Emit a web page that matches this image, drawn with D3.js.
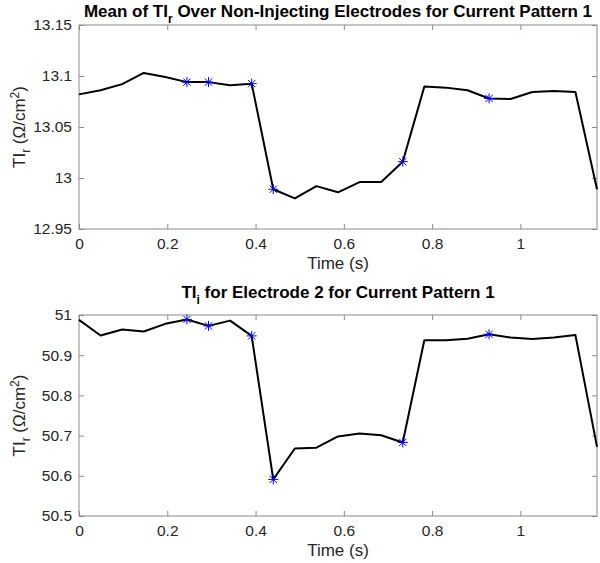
<!DOCTYPE html>
<html>
<head>
<meta charset="utf-8">
<script src="https://cdn.jsdelivr.net/npm/d3@7"></script>
<style>
  html, body { margin: 0; padding: 0; background: #fff; }
  svg { display: block; }
  text { font-family: "Liberation Sans", Arial, Helvetica, sans-serif; }
</style>
</head>
<body>
<svg id="chart" width="600" height="563"></svg>
<script>
// ---- data ----
const time = [0, 0.0489, 0.0978, 0.1467, 0.1956, 0.2445, 0.2934, 0.3423, 0.3912, 0.4401,
              0.489, 0.5379, 0.5868, 0.6357, 0.6846, 0.7335, 0.7824, 0.8313, 0.8802, 0.9291,
              0.978, 1.0269, 1.0758, 1.1247, 1.1736];
const meanTIr = [13.082, 13.086, 13.092, 13.103, 13.099, 13.094, 13.094, 13.091, 13.0925, 12.989,
                 12.980, 12.992, 12.986, 12.996, 12.996, 13.016, 13.0896, 13.0886, 13.086, 13.078,
                 13.0775, 13.0843, 13.0853, 13.0843, 12.989];
const electrode2TIi = [50.988, 50.949, 50.964, 50.959, 50.978, 50.989, 50.973, 50.986, 50.948, 50.591,
                       50.668, 50.670, 50.698, 50.705, 50.701, 50.683, 50.937, 50.937, 50.941, 50.952,
                       50.944, 50.940, 50.944, 50.950, 50.672];
const markedIdx = [5, 6, 8, 9, 15, 19];
const xTicks = [0, 0.2, 0.4, 0.6, 0.8, 1];
const yTicksTop = [12.95, 13, 13.05, 13.1, 13.15];
const yTicksBottom = [50.5, 50.6, 50.7, 50.8, 50.9, 51];

const svg = d3.select("#chart");
const left = 79, right = 597;
const axisColor = "#8a8a8a", textColor = "#262626";

function panel(cfg) {
  const x = d3.scaleLinear().domain([0, time[time.length - 1]]).range([left, right]);
  const y = d3.scaleLinear().domain(cfg.yDomain).range([cfg.bottom, cfg.top]);
  const g = svg.append("g");

  g.append("rect").attr("x", left).attr("y", cfg.top)
    .attr("width", right - left).attr("height", cfg.bottom - cfg.top)
    .attr("fill", "none").attr("stroke", axisColor).attr("stroke-width", 1);

  const tl = 5;
  const xAxisB = d3.axisBottom(x).tickValues(xTicks).tickSizeInner(-tl).tickSizeOuter(0)
    .tickPadding(9).tickFormat(d3.format("~g"));
  const gxb = g.append("g").attr("transform", `translate(0,${cfg.bottom})`).call(xAxisB);
  const xAxisT = d3.axisTop(x).tickValues(xTicks).tickSizeInner(-tl).tickSizeOuter(0).tickFormat("");
  const gxt = g.append("g").attr("transform", `translate(0,${cfg.top})`).call(xAxisT);
  const yAxisL = d3.axisLeft(y).tickValues(cfg.yTicks).tickSizeInner(-tl).tickSizeOuter(0)
    .tickPadding(7).tickFormat(d3.format("~g"));
  const gyl = g.append("g").attr("transform", `translate(${left},0)`).call(yAxisL);
  const yAxisR = d3.axisRight(y).tickValues(cfg.yTicks).tickSizeInner(-tl).tickSizeOuter(0).tickFormat("");
  const gyr = g.append("g").attr("transform", `translate(${right},0)`).call(yAxisR);

  [gxb, gxt, gyl, gyr].forEach(a => {
    a.select(".domain").remove();
    a.selectAll("line").attr("stroke", axisColor);
    a.selectAll("text").attr("fill", textColor).style("font-size", "15.5px")
      .style("font-family", "'Liberation Sans', Arial, sans-serif");
  });
  gxb.selectAll("text").attr("dy", "0.71em");

  const line = d3.line().x((d, i) => x(time[i])).y(d => y(d));
  g.append("path").datum(cfg.values).attr("d", line)
    .attr("fill", "none").attr("stroke", "#000").attr("stroke-width", 2)
    .attr("stroke-linejoin", "round");

  const r = 5, rd = 3.6;
  const mk = g.selectAll(".mk").data(markedIdx).enter().append("g")
    .attr("transform", i => `translate(${x(time[i])},${y(cfg.values[i])})`);
  mk.append("path")
    .attr("d", `M${-r},0L${r},0M0,${-r}L0,${r}M${-rd},${-rd}L${rd},${rd}M${-rd},${rd}L${rd},${-rd}`)
    .attr("stroke", "#0000ff").attr("stroke-width", 1).attr("fill", "none");

  const t = svg.append("text").attr("x", (left + right) / 2).attr("y", cfg.titleY)
    .attr("text-anchor", "middle").attr("fill", "#000")
    .style("font-size", "17px").style("font-weight", "bold");
  t.append("tspan").text(cfg.titleA);
  t.append("tspan").attr("dy", 6).style("font-size", "12px").text(cfg.titleSub);
  t.append("tspan").attr("dy", -6).text(cfg.titleB);

  svg.append("text").attr("x", (left + right) / 2).attr("y", cfg.bottom + 40)
    .attr("text-anchor", "middle").attr("fill", textColor).style("font-size", "17px")
    .text("Time (s)");

  const yl = svg.append("text")
    .attr("transform", `translate(25,${(cfg.top + cfg.bottom) / 2}) rotate(-90)`)
    .attr("text-anchor", "middle").attr("fill", textColor).style("font-size", "17px");
  yl.append("tspan").text("TI");
  yl.append("tspan").attr("dy", 5).style("font-size", "12px").text("r");
  yl.append("tspan").attr("dy", -5).text(" (\u03A9/cm");
  yl.append("tspan").attr("dy", -6).style("font-size", "12px").text("2");
  yl.append("tspan").attr("dy", 6).text(")");
}

panel({
  top: 25, bottom: 229, yDomain: [12.95, 13.15], yTicks: yTicksTop, values: meanTIr,
  titleY: 17, titleA: "Mean of TI", titleSub: "r", titleB: " Over Non-Injecting Electrodes for Current Pattern 1"
});
panel({
  top: 315, bottom: 516, yDomain: [50.5, 51], yTicks: yTicksBottom, values: electrode2TIi,
  titleY: 298, titleA: "TI", titleSub: "i", titleB: " for Electrode 2 for Current Pattern 1"
});
</script>
</body>
</html>
